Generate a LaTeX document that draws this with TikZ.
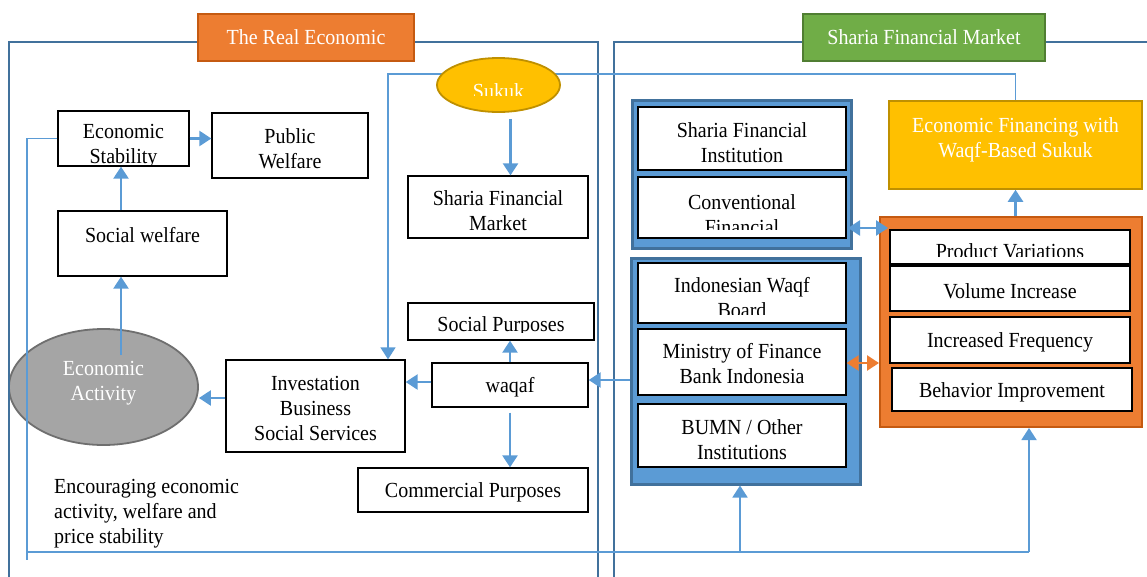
\documentclass[tikz,border=0pt]{standalone}
\usepackage{fontspec}
\setmainfont{Liberation Serif}[FakeStretch=0.93]
\usetikzlibrary{arrows.meta,shapes.geometric}
\definecolor{frameblue}{HTML}{41719C}
\definecolor{lblue}{HTML}{5B9BD5}
\definecolor{orng}{HTML}{ED7D31}
\definecolor{orngd}{HTML}{C55A11}
\definecolor{gold}{HTML}{FFC000}
\definecolor{goldd}{HTML}{BF9000}
\definecolor{grn}{HTML}{70AD47}
\definecolor{grnd}{HTML}{507E32}
\definecolor{gry}{HTML}{A5A5A5}
\definecolor{gryd}{HTML}{6F6F6F}
\begin{document}
\begin{tikzpicture}[x=1pt,y=-1pt,
  txt/.style={font=\fontsize{21.5}{25}\selectfont, align=center, inner sep=0pt},
  wbox/.style={draw=black, line width=1.3pt, fill=white, inner sep=0pt, txt},
  wboxone/.style={wbox, text height=20pt},
  bgroup/.style={draw=frameblue, fill=lblue, line width=3pt, inner sep=0pt},
  ogroup/.style={draw=orngd, fill=orng, line width=2pt, inner sep=0pt},
  fr/.style={draw=frameblue, line width=2pt},
  tl/.style={draw=lblue, line width=1.4pt},
  tip/.tip={Triangle[length=12pt,width=15pt]},
  arr/.style={draw=lblue, line width=2.4pt, -tip},
]
\useasboundingbox (0,0) rectangle (1147,576);

% economic activity ellipse
\node[ellipse, draw=gryd, fill=gry, line width=1.8pt, minimum width=189pt, minimum height=116pt, inner sep=0pt] (ea) at (103.5,387) {};
\node[txt, text=white] (eat) at (103.5,383) {Economic\\Activity};

% frames
\draw[fr] (9,590) -- (9,42) -- (598,42) -- (598,590);
\draw[fr] (614,590) -- (614,42) -- (1152,42);

% titles
\node[draw=orngd, fill=orng, line width=1.5pt, minimum width=216pt, minimum height=47pt, txt, text=white] (t1) at (306,37.5) {The Real Economic};
\node[draw=grnd, fill=grn, line width=1.5pt, minimum width=242pt, minimum height=47pt, txt, text=white] (t2) at (924,37.5) {Sharia Financial Market};

% left boxes
\node[wbox, minimum width=131pt, minimum height=55pt] (es) at (123.5,138.5) {};
\begin{scope}
\clip (58,111) rectangle (189,166);
\node[txt] (est) at (123.5,146) {Economic\\Stability};
\end{scope}
\node[wbox, minimum width=156pt, minimum height=65pt] (pw) at (290,145.5) {};
\node[txt] (pwt) at (290,149) {Public\\Welfare};
\node[wbox, minimum width=169pt, minimum height=65pt] (sw) at (142.5,243.5) {};
\node[txt] (swt) at (142.5,235) {Social welfare};
\node[wbox, minimum width=180pt, minimum height=62pt] (sfm) at (498,207) {};
\node[txt] (sfmt) at (498,210.5) {Sharia Financial\\Market};
\node[wbox, minimum width=179pt, minimum height=92pt] (inv) at (315.5,406) {};
\node[txt] (invt) at (315.5,408) {Investation\\Business\\Social Services};
\node[wboxone, minimum width=156pt, minimum height=44pt] (waqaf) at (510,385) {waqaf};
\node[wbox, minimum width=186pt, minimum height=37pt] (sp) at (501,321.5) {};
\begin{scope}
\clip (408,303) rectangle (594,332);
\node[txt] (spt) at (501,326) {Social Purposes};
\end{scope}
\node[wboxone, minimum width=230pt, minimum height=44pt] (cp) at (473,490) {Commercial Purposes};
\node[txt, align=left, anchor=north west] (enc) at (54,479) {Encouraging economic\\activity, welfare and\\price stability};

% right: blue group 1
\node[bgroup, minimum width=219pt, minimum height=148pt] (g1) at (741.5,174) {};
\node[wbox, minimum width=208pt, minimum height=63pt] (sfi) at (742,138.5) {};
\begin{scope}
\clip (638,107) rectangle (846,162);
\node[txt] (sfit) at (742,143) {Sharia Financial\\Institution};
\end{scope}
\node[wbox, minimum width=208pt, minimum height=61pt] (cf) at (742,207.5) {};
\begin{scope}
\clip (638,177) rectangle (846,229);
\node[txt] (cft) at (742,214.5) {Conventional\\Financial};
\end{scope}

% blue group 2
\node[bgroup, minimum width=229pt, minimum height=226pt] (g2) at (745.5,371) {};
\node[wbox, minimum width=208pt, minimum height=60pt] (iwb) at (742,293) {};
\begin{scope}
\clip (638,263) rectangle (846,314);
\node[txt] (iwbt) at (742,297.5) {Indonesian Waqf\\Board};
\end{scope}
\node[wbox, minimum width=208pt, minimum height=66pt] (mof) at (742,362) {};
\node[txt] (moft) at (742,364) {Ministry of Finance\\Bank Indonesia};
\node[wbox, minimum width=208pt, minimum height=63pt] (bumn) at (742,435.5) {};
\node[txt] (bumnt) at (742,439.5) {BUMN / Other\\Institutions};

% yellow box
\node[draw=goldd, fill=gold, line width=1.5pt, minimum width=253pt, minimum height=88pt, inner sep=0pt] (yb) at (1015.5,145) {};
\node[txt, text=white] (ybt) at (1015.5,140) {Economic Financing with\\Waqf-Based Sukuk};

% orange group
\node[ogroup, minimum width=262pt, minimum height=210pt] (og) at (1011,322) {};
\node[wbox, minimum width=240pt, minimum height=34pt] (pv) at (1010,247) {};
\begin{scope}
\clip (890,230) rectangle (1130,256);
\node[txt] (pvt) at (1010,251) {Product Variations};
\end{scope}
\node[wboxone, minimum width=240pt, minimum height=45pt] (vi) at (1010,288.5) {Volume Increase};
\node[wboxone, minimum width=240pt, minimum height=46pt] (ifr) at (1010,340) {Increased Frequency};
\node[wboxone, minimum width=240pt, minimum height=43pt] (bi) at (1012,389.5) {Behavior Improvement};

% long thin connectors
\coordinate (tl) at (388,74);
\draw[tl, line width=1.6pt, -tip] (yb.north) |- (tl) -- (tl |- inv.north);
\draw[tl] (es.west) -| (27,560);
\coordinate (b0) at (27,552);
\coordinate (b1) at (740,552);
\coordinate (b2) at (1029,552);
\draw[tl] (b0) -- (b2);
\draw[arr, line width=1.8pt] (b1) -- (b1 |- g2.south);
\draw[arr, line width=1.8pt] (b2) -- (b2 |- og.south);

% sukuk ellipse (over the thin line)
\node[ellipse, draw=goldd, fill=gold, line width=1.8pt, minimum width=123pt, minimum height=54pt, inner sep=0pt] (sukuk) at (498.5,85) {};
\begin{scope}
\clip (437,58) rectangle (560,95);
\node[txt, text=white] (sukukt) at (498.5,91) {Sukuk};
\end{scope}

% arrows
\coordinate (eatop) at (121,355);
\draw[arr] (es.east) -- (es.east -| pw.west);
\draw[arr] (eatop |- sw.north) -- (eatop |- es.south);
\draw[arr] (eatop) -- (eatop |- sw.south);
\draw[arr] ([yshift=8pt]inv.west) -- ([yshift=8pt]inv.west -| ea.east);
\draw[arr] ([yshift=3pt]waqaf.west) -- ([yshift=3pt]waqaf.west -| inv.east);
\draw[arr] (waqaf.north) -- (waqaf.north |- sp.south);
\draw[arr, shorten <=5pt] (waqaf.south) -- (waqaf.south |- cp.north);
\draw[arr, shorten <=6pt] ([xshift=12pt]sukuk.south) -- ([xshift=12pt]sukuk.south |- sfm.north);
\draw[arr] ([yshift=-18pt]mof.west -| g2.west) -- ([yshift=-18pt]mof.west -| waqaf.east);
\draw[arr] (yb.south |- og.north) -- (yb.south);
\draw[draw=lblue, line width=2.4pt, tip-tip] (848,228) -- (888,228);
\draw[draw=orng, line width=2.4pt, tip-tip] (mof.east |- 0,363) -- (og.west |- 0,363);
\end{tikzpicture}
\end{document}
